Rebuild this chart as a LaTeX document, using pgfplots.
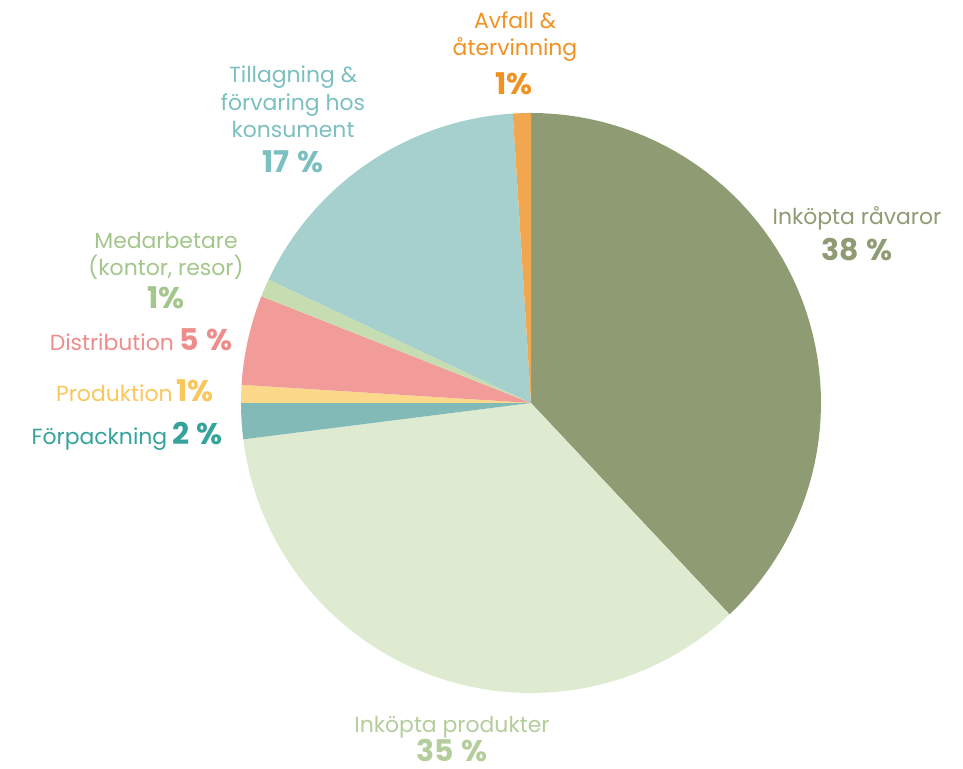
\documentclass[border=0pt]{standalone}
\usepackage{pgfplots}
\pgfplotsset{compat=1.18}
\usepackage{fontspec}
\setmainfont{Poppins}
\definecolor{cRav}{HTML}{8F9C73}
\definecolor{cProd}{HTML}{DFEBD0}
\definecolor{cForp}{HTML}{82BAB8}
\definecolor{cProdk}{HTML}{FCD98A}
\definecolor{cDist}{HTML}{F29C9A}
\definecolor{cMed}{HTML}{C5DDB0}
\definecolor{cTill}{HTML}{A6D0CE}
\definecolor{cAvf}{HTML}{F2A650}
\definecolor{tRav}{HTML}{8F9C73}
\definecolor{tProd}{HTML}{B4CD9C}
\definecolor{tForp}{HTML}{35A29C}
\definecolor{tProdk}{HTML}{F9C75C}
\definecolor{tDist}{HTML}{EE8C8C}
\definecolor{tMed}{HTML}{A3C68B}
\definecolor{tTill}{HTML}{7CBFC0}
\definecolor{tAvf}{HTML}{F09222}
% shares in percent, clockwise from 12 o'clock
% Inköpta råvaror 38, Inköpta produkter 35, Förpackning 2, Produktion 1,
% Distribution 5, Medarbetare 1, Tillagning 17, Avfall 1
\newcommand{\pieslice}[3]{% start cum, end cum, colour
  \addplot[draw=none, fill=#3, domain={3.6*#1}:{3.6*#2}, samples=60, variable=\t]
    ({531+290*sin(t)}, {366+290*cos(t)}) -- (axis cs:531,366) -- cycle;}
\newcommand{\lab}{\fontsize{22}{28}\selectfont}
\newcommand{\pct}{\fontsize{30}{30}\selectfont\bfseries}
\newcommand{\ps}{\hspace{0.25em}}
\begin{document}
\begin{tikzpicture}
\begin{axis}[scale only axis, width=963bp, height=769bp,
  xmin=0, xmax=963, ymin=0, ymax=769, hide axis, clip=false]
\pieslice{0}{38}{cRav}
\pieslice{38}{73}{cProd}
\pieslice{73}{75}{cForp}
\pieslice{75}{76}{cProdk}
\pieslice{76}{81}{cDist}
\pieslice{81}{82}{cMed}
\pieslice{82}{99}{cTill}
\pieslice{99}{100}{cAvf}
% labels
\tikzset{every node/.style={inner sep=0pt, anchor=base}}
\node[tAvf, align=center, font=\lab] at (axis cs:515,713) {Avfall \&\\återvinning};
\node[tAvf, font=\pct] at (axis cs:514,674) {1\%};
\node[tTill, align=center, font=\lab] at (axis cs:293,631) {Tillagning \&\\förvaring hos\\konsument};
\node[tTill, font=\pct] at (axis cs:293,596) {17\ps\%};
\node[tMed, align=center, font=\lab] at (axis cs:166,493) {Medarbetare\\(kontor, resor)};
\node[tMed, font=\pct] at (axis cs:166,460) {1\%};
\node[anchor=base east] at (axis cs:233,418) {{\lab\color{tDist}Distribution}\hspace{6bp}{\pct\color{tDist}5\ps\%}};
\node[anchor=base east] at (axis cs:214,367) {{\lab\color{tProdk}Produktion}\hspace{4bp}{\pct\color{tProdk}1\%}};
\node[anchor=base east] at (axis cs:223,324) {{\lab\color{tForp}Förpackning}\hspace{5bp}{\pct\color{tForp}2\ps\%}};
\node[tRav, font=\lab] at (axis cs:857,544) {Inköpta råvaror};
\node[tRav, font=\pct] at (axis cs:857,508) {38\ps\%};
\node[tProd, font=\lab] at (axis cs:452,36) {Inköpta produkter};
\node[tProd, font=\pct, text depth=0pt] at (axis cs:452,8) {35\ps\%};
\end{axis}
\pgfresetboundingbox
\path[use as bounding box] (0,0) rectangle (963bp,769bp);
\end{tikzpicture}
\end{document}
